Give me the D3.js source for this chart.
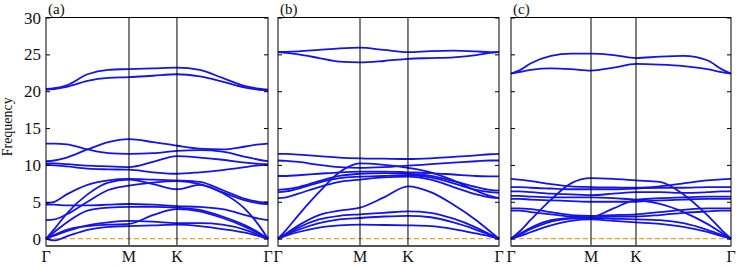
<!DOCTYPE html>
<html>
<head>
<meta charset="utf-8">
<script src="https://cdn.jsdelivr.net/npm/d3@7"></script>
<style>
  body { margin: 0; background: #fff; }
  svg text { font-family: "Liberation Serif", "DejaVu Serif", serif; fill: #111; }
</style>
</head>
<body>
<svg id="chart" width="738" height="267"></svg>
<script>
// ---- data ----
const yTicks = [0, 5, 10, 15, 20, 25, 30];
const kLabels = ['Γ', 'M', 'K', 'Γ'];
const panelNames = ['(a)', '(b)', '(c)'];

// path distance of Γ, M, K, Γ per panel (Γ-M = 1)
const kTicksA = [0, 1, 1.578, 2.675];
const kTicksB = [0, 1, 1.585, 2.695];
const kTicksC = [0, 1, 1.5625, 2.75];

// sample nodes along the path: [segment, fraction]
const nodes = [[0,0],[0,.1],[0,.25],[0,.5],[0,.75],[1,0],[1,.5],[2,0],[2,.25],[2,.5],[2,.75],[2,.9],[2,1]];

const bandsA = [
  [20.3, 20.4, 20.8, 22.3, 22.9, 23.0, 23.1, 23.2, 22.9, 21.8, 20.7, 20.35, 20.2],
  [20.2, 20.3, 20.6, 21.4, 21.8, 21.9, 22.1, 22.3, 22.0, 21.3, 20.5, 20.2, 20.1],
  [10.5, 10.6, 11.0, 12.1, 13.1, 13.5, 13.1, 12.6, 12.2, 12.1, 12.5, 12.8, 12.9],
  [12.9, 12.9, 12.8, 12.1, 11.6, 11.5, 11.6, 11.9, 12.0, 11.8, 11.1, 10.7, 10.5],
  [10.2, 10.2, 10.1, 9.9, 9.8, 9.7, 10.4, 11.2, 11.0, 10.7, 10.3, 10.15, 10.1],
  [10.0, 9.95, 9.8, 9.5, 9.4, 9.35, 9.0, 8.8, 9.0, 9.3, 9.7, 9.95, 10.0],
  [4.8, 5.0, 6.0, 7.3, 7.9, 8.1, 8.0, 7.9, 7.7, 6.6, 5.4, 5.0, 4.9],
  [0, 1.3, 3.4, 6.0, 7.6, 8.0, 7.4, 6.7, 7.3, 6.2, 4.0, 1.8, 0],
  [2.5, 2.6, 3.3, 5.0, 6.6, 7.2, 7.6, 7.8, 7.4, 6.3, 5.2, 4.8, 4.7],
  [4.6, 4.6, 4.5, 4.5, 4.6, 4.7, 4.6, 4.4, 4.3, 4.0, 3.2, 2.7, 2.5],
  [0, 0.9, 2.2, 3.8, 4.2, 4.3, 4.3, 4.2, 3.9, 3.0, 1.8, 0.8, 0],
  [0, 0.5, 1.2, 1.7, 1.9, 2.0, 3.2, 4.0, 3.7, 2.8, 1.6, 0.7, 0],
  [0, 0.4, 1.0, 1.8, 2.2, 2.4, 2.3, 2.1, 2.1, 1.9, 1.2, 0.5, 0],
  [0, -0.25, 0.3, 1.2, 1.6, 1.7, 1.8, 1.9, 1.7, 1.3, 0.8, 0.35, 0]
];

const bandsB = [
  [25.3, 25.35, 25.4, 25.6, 25.8, 25.9, 25.6, 25.3, 25.45, 25.5, 25.4, 25.3, 25.3],
  [25.3, 25.2, 25.0, 24.5, 24.0, 23.9, 24.1, 24.4, 24.5, 24.6, 24.9, 25.2, 25.3],
  [11.5, 11.5, 11.4, 11.2, 11.0, 10.9, 10.85, 10.8, 10.9, 11.1, 11.3, 11.45, 11.5],
  [10.6, 10.55, 10.4, 10.0, 9.7, 9.6, 9.7, 9.9, 10.1, 10.3, 10.5, 10.6, 10.6],
  [0, 1.2, 3.2, 6.3, 9.0, 10.2, 10.0, 9.6, 9.0, 7.9, 6.5, 5.8, 5.5],
  [8.5, 8.5, 8.6, 8.8, 9.0, 9.1, 9.1, 9.0, 8.9, 8.7, 8.5, 8.45, 8.45],
  [6.6, 6.7, 7.0, 7.8, 8.5, 8.8, 8.9, 8.8, 8.5, 7.8, 7.0, 6.6, 6.5],
  [6.3, 6.4, 6.8, 7.6, 8.2, 8.4, 8.5, 8.6, 8.3, 7.5, 6.6, 6.3, 6.2],
  [5.5, 5.6, 6.1, 7.0, 7.7, 8.0, 8.3, 8.4, 8.0, 7.0, 6.0, 5.6, 5.5],
  [0, 0.7, 1.8, 3.2, 3.8, 4.2, 5.6, 7.1, 6.3, 4.6, 2.5, 1.0, 0],
  [0, 0.6, 1.5, 2.6, 3.1, 3.3, 3.5, 3.7, 3.5, 2.7, 1.5, 0.6, 0],
  [0, 0.5, 1.2, 2.1, 2.6, 2.8, 3.0, 3.1, 2.9, 2.2, 1.2, 0.5, 0],
  [0, 0.4, 0.9, 1.5, 1.8, 1.9, 1.85, 1.8, 1.7, 1.3, 0.7, 0.3, 0]
];

const bandsC = [
  [22.4, 22.8, 23.8, 24.8, 25.1, 25.1, 24.9, 24.5, 24.7, 24.8, 24.2, 23.0, 22.4],
  [22.4, 22.6, 22.9, 23.1, 23.0, 22.8, 23.2, 23.7, 23.6, 23.4, 23.0, 22.6, 22.4],
  [0, 0.9, 2.6, 5.3, 7.5, 8.2, 8.1, 7.9, 7.7, 6.0, 3.2, 1.2, 0],
  [8.1, 8.0, 7.8, 7.4, 7.1, 7.0, 6.95, 6.9, 7.1, 7.5, 7.9, 8.05, 8.1],
  [7.0, 7.0, 6.9, 6.8, 6.7, 6.7, 6.7, 6.8, 6.9, 6.9, 7.0, 7.0, 7.0],
  [6.4, 6.4, 6.3, 6.1, 6.0, 5.9, 6.1, 6.3, 6.3, 6.2, 6.3, 6.4, 6.4],
  [5.8, 5.8, 5.7, 5.6, 5.6, 5.6, 5.5, 5.3, 5.5, 5.6, 5.7, 5.7, 5.7],
  [5.4, 5.4, 5.3, 5.2, 5.1, 5.0, 5.0, 5.0, 5.2, 5.3, 5.4, 5.4, 5.4],
  [4.1, 4.1, 4.0, 3.6, 3.2, 3.1, 3.2, 3.3, 3.6, 3.9, 4.1, 4.1, 4.1],
  [3.8, 3.8, 3.6, 3.3, 3.0, 2.9, 3.0, 3.0, 3.2, 3.5, 3.7, 3.8, 3.8],
  [0, 0.6, 1.5, 2.5, 2.8, 2.9, 4.1, 5.2, 4.7, 3.6, 2.0, 0.8, 0],
  [0, 0.5, 1.3, 2.3, 2.7, 2.8, 2.7, 2.6, 2.5, 2.1, 1.2, 0.5, 0],
  [0, 0.3, 0.9, 1.8, 2.4, 2.6, 2.4, 2.2, 2.0, 1.6, 0.9, 0.35, 0]
];

// ---- layout ----
const panels = [
  { name: panelNames[0], kt: kTicksA, bands: bandsA, x0: 46,  x1: 268 },
  { name: panelNames[1], kt: kTicksB, bands: bandsB, x0: 278, x1: 499 },
  { name: panelNames[2], kt: kTicksC, bands: bandsC, x0: 511, x1: 731 }
];
const plotTop = 17.5, plotBottom = 246;
const y = d3.scaleLinear().domain([-1, 30]).range([plotBottom, plotTop]);

const svg = d3.select('#chart');

panels.forEach((p, pi) => {
  const kt = p.kt;
  const x = d3.scaleLinear().domain([0, kt[3]]).range([p.x0, p.x1]);
  const g = svg.append('g');

  // zero line
  g.append('line')
    .attr('x1', x(0)).attr('x2', x(kt[3]))
    .attr('y1', y(0)).attr('y2', y(0))
    .attr('stroke', '#e8a626').attr('stroke-width', 1.1)
    .attr('stroke-dasharray', '5,3');

  // bands
  const kOf = n => kt[n[0]] + n[1] * (kt[n[0] + 1] - kt[n[0]]);
  const line = d3.line()
    .x((d, i) => x(kOf(nodes[i])))
    .y(d => y(d))
    .curve(d3.curveMonotoneX);
  g.selectAll('path.band')
    .data(p.bands)
    .join('path')
    .attr('class', 'band')
    .attr('d', line)
    .attr('fill', 'none')
    .attr('stroke', '#1414e8')
    .attr('stroke-width', 1.8);

  // high-symmetry lines
  [kt[1], kt[2]].forEach(k => {
    g.append('line')
      .attr('x1', x(k)).attr('x2', x(k))
      .attr('y1', plotTop).attr('y2', plotBottom)
      .attr('stroke', '#000').attr('stroke-width', 1);
  });

  // frame
  g.append('rect')
    .attr('x', p.x0).attr('y', plotTop)
    .attr('width', p.x1 - p.x0).attr('height', plotBottom - plotTop)
    .attr('fill', 'none').attr('stroke', '#000').attr('stroke-width', 1);
  g.append('line')
    .attr('x1', p.x0).attr('x2', p.x1)
    .attr('y1', plotBottom).attr('y2', plotBottom)
    .attr('stroke', '#555').attr('stroke-width', 2);

  // y ticks, inward on both sides
  const left = g.append('g').attr('transform', `translate(${p.x0},0)`)
    .call(d3.axisRight(y).tickValues(yTicks).tickSize(4).tickFormat(''));
  const right = g.append('g').attr('transform', `translate(${p.x1},0)`)
    .call(d3.axisLeft(y).tickValues(yTicks).tickSize(4).tickFormat(''));
  [left, right].forEach(a => {
    a.select('.domain').remove();
    a.selectAll('line').attr('stroke', '#000');
  });

  if (pi === 0) {
    g.selectAll('text.ytick')
      .data(yTicks)
      .join('text')
      .attr('class', 'ytick')
      .attr('x', p.x0 - 5)
      .attr('y', d => y(d) + 6)
      .attr('text-anchor', 'end')
      .attr('font-size', 17)
      .text(d => d);
  }

  // k labels
  g.selectAll('text.klab')
    .data(kLabels)
    .join('text')
    .attr('class', 'klab')
    .attr('x', (d, i) => x(kt[i]))
    .attr('y', 262)
    .attr('text-anchor', 'middle')
    .attr('font-size', 16)
    .text(d => d);

  // panel label
  g.append('text')
    .attr('x', p.x0 + 2).attr('y', 14)
    .attr('font-size', 15)
    .text(p.name);
});

svg.append('text')
  .attr('transform', `translate(12,${(plotTop + plotBottom) / 2 - 5}) rotate(-90)`)
  .attr('text-anchor', 'middle')
  .attr('font-size', 14)
  .text('Frequency');
</script>
</body>
</html>
